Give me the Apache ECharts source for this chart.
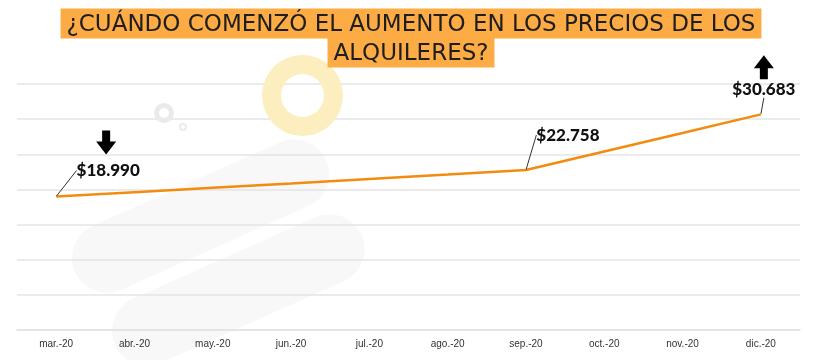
<!DOCTYPE html>
<html><head><meta charset="utf-8">
<script src="https://cdn.jsdelivr.net/npm/echarts@6/dist/echarts.min.js"></script>
<style>html,body{margin:0;padding:0;background:#fff}#c{width:822px;height:360px}</style>
</head><body><div id="c"></div>
<script>
const categories = ['mar.-20','abr.-20','may.-20','jun.-20','jul.-20','ago.-20','sep.-20','oct.-20','nov.-20','dic.-20'];
const values = [18990, 19600, 20230, 20850, 21480, 22110, 22758, 25400, 28040, 30683];
const labelIdx = [0, 6, 9];
const titleLines = ['¿CUÁNDO COMENZÓ EL AUMENTO EN LOS PRECIOS DE LOS', 'ALQUILERES?'];

function fmt(v){ return '$' + String(v).replace(/\B(?=(\d{3})+(?!\d))/g, '.'); }

const chart = echarts.init(document.getElementById('c'));
const arrowPath = 'path://M6,0 H14 V11 H20 L10,24 L0,11 H6 Z';
const labelShift = {0:[52,-12], 6:[42,-21], 9:[3,-11]};

chart.setOption({
  animation: false,
  backgroundColor: '#fff',
  title: {
    left: 'center', top: 4,
    text: titleLines.map(t => '{a|' + t + '}').join('\n'),
    textStyle: {
      rich: { a: { fontFamily: 'DejaVu Sans', fontSize: 23, fontWeight: 'normal', color: '#1e1e1e', backgroundColor: '#fdab45', padding: [5, 6, 2, 6], lineHeight: 29 } }
    }
  },
  graphic: [
    { type: 'rect', z: -10, silent: true, x: 75, y: 272, rotation: 0.42, shape: { x: 0, y: -35, width: 275, height: 70, r: 35 }, style: { fill: '#f7f8f7' } },
    { type: 'rect', z: -10, silent: true, x: 115, y: 345, rotation: 0.42, shape: { x: 0, y: -35, width: 270, height: 70, r: 35 }, style: { fill: '#f7f8f7' } },
    { type: 'ring', z: 5, silent: true, shape: { cx: 302.5, cy: 95.5, r: 40.5, r0: 21.5 }, style: { fill: '#fdeebf' } },
    { type: 'ring', z: 5, silent: true, shape: { cx: 164, cy: 113, r: 10, r0: 5 }, style: { fill: '#eaeaea' } },
    { type: 'ring', z: 5, silent: true, shape: { cx: 183, cy: 127, r: 4, r0: 2 }, style: { fill: '#eaeaea' } }
  ],
  grid: { left: 17, right: 22, top: 84, bottom: 30 },
  xAxis: {
    type: 'category', data: categories, boundaryGap: true,
    axisLine: { lineStyle: { color: '#e2e2e2', width: 1.5 } },
    axisTick: { show: false },
    axisLabel: { color: '#333', fontSize: 10, fontFamily: 'Liberation Sans', margin: 9 }
  },
  yAxis: {
    type: 'value', min: 0, max: 35000, interval: 5000,
    axisLabel: { show: false }, axisLine: { show: false }, axisTick: { show: false },
    splitLine: { lineStyle: { color: '#e4e4e4', width: 1.5 } }
  },
  series: [{
    type: 'line',
    data: values.map((v, i) => ({ value: v, label: { show: labelIdx.includes(i) }, labelLine: { show: labelIdx.includes(i) } })),
    symbol: 'circle', symbolSize: 1, showSymbol: true, z: 10,
    itemStyle: { color: 'rgba(0,0,0,0)' },
    lineStyle: { color: '#f28c0e', width: 2.5 },
    label: {
      show: false, position: 'top', formatter: p => fmt(p.value),
      fontFamily: 'Lato', fontWeight: 900, fontSize: 17, color: '#111'
    },
    labelLine: { show: false, lineStyle: { color: '#333', width: 1 } },
    labelLayout: p => { const s = labelShift[p.dataIndex] || [0,0]; return { dx: s[0], dy: s[1] }; },
    markPoint: {
      silent: true, symbol: arrowPath, symbolSize: [20, 24], label: { show: false },
      itemStyle: { color: '#000' },
      data: [
        { coord: [categories[0], values[0]], symbolOffset: [50, -54] },
        { coord: [categories[9], values[9]], symbolOffset: [3, -47], symbolRotate: 180 }
      ]
    }
  }]
});
</script></body></html>
